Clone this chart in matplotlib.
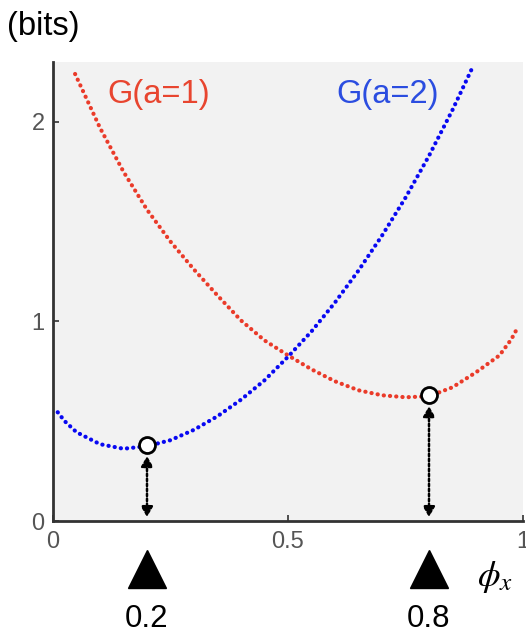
import numpy as np
import matplotlib
matplotlib.use('Agg')
import matplotlib.pyplot as plt

plt.rcParams['font.family'] = ['Liberation Sans', 'DejaVu Sans']
plt.rcParams['mathtext.fontset'] = 'stix'

# G(a=1): red curve
phi_red = [0.047, 0.1, 0.15, 0.2, 0.25, 0.3, 0.35, 0.4, 0.45, 0.5, 0.55, 0.6,
           0.65, 0.7, 0.75, 0.8, 0.85, 0.9, 0.95, 0.975, 0.99]
g_red = [2.24, 1.97, 1.75, 1.56, 1.40, 1.26, 1.13, 1.005, 0.905, 0.83, 0.76, 0.70,
         0.655, 0.63, 0.62, 0.625, 0.67, 0.745, 0.83, 0.91, 0.975]

# G(a=2): blue curve
phi_blue = [0.01, 0.025, 0.05, 0.1, 0.15, 0.2, 0.25, 0.3, 0.35, 0.4, 0.45, 0.5,
            0.55, 0.6, 0.65, 0.7, 0.75, 0.8, 0.85, 0.892]
g_blue = [0.545, 0.50, 0.445, 0.385, 0.362, 0.375, 0.405, 0.457, 0.525, 0.608, 0.705, 0.823,
          0.95, 1.095, 1.255, 1.43, 1.62, 1.83, 2.06, 2.27]

# minima marked with circles and arrows
min_phi = [0.2, 0.8]
min_g = [0.38, 0.63]
min_labels = ['0.2', '0.8']

RED = '#ea3b2a'
BLUE = '#0808f2'

fig = plt.figure(figsize=(5.26, 6.37), dpi=100)
ax = fig.add_axes([53 / 526, 1 - 521 / 637, 470 / 526, 459 / 637])
ax.set_facecolor('#f2f2f2')

dots = (0, (0.05, 1.45))
ax.plot(phi_red, g_red, color=RED, lw=3.0, ls=dots, dash_capstyle='round')
ax.plot(phi_blue, g_blue, color=BLUE, lw=3.0, ls=dots, dash_capstyle='round')

# double-headed dotted arrows down to the axis
for x, g in zip(min_phi, min_g):
    ax.annotate('', xy=(x, 0.02), xytext=(x, g - 0.055),
                arrowprops=dict(arrowstyle='<|-|>,head_length=0.6,head_width=0.35',
                                color='black', lw=1.8, ls=(0, (1, 1)),
                                shrinkA=0, shrinkB=0))

ax.plot(min_phi, min_g, 'o', ms=11.5, mfc='white', mec='black', mew=2, zorder=5)

ax.text(0.115, 2.135, 'G(a=1)', color='#e8452f', fontsize=23.5, ha='left', va='center')
ax.text(0.602, 2.135, 'G(a=2)', color='#2b4de0', fontsize=23.5, ha='left', va='center')

ax.set_xlim(0, 1)
ax.set_ylim(0, 2.3)
ax.set_xticks([0, 0.5, 1])
ax.set_xticklabels(['0', '0.5', '1'])
ax.set_yticks([0, 1, 2])
ax.tick_params(direction='in', length=4, width=1.2, color='#333333',
               labelcolor='#555555', labelsize=17)
ax.tick_params(axis='x', pad=7)
ax.tick_params(axis='y', pad=6)
for side in ['top', 'right']:
    ax.spines[side].set_visible(False)
for side in ['left', 'bottom']:
    ax.spines[side].set_linewidth(2)
    ax.spines[side].set_color('#333333')

# triangles and values under the axis
trans = ax.get_xaxis_transform()
ax.plot(min_phi, [-0.105] * 2, '^', color='black', ms=27, transform=trans, clip_on=False)
for x, lab in zip(min_phi, min_labels):
    ax.text(x, -0.214, lab, fontsize=22.5, ha='center', va='center', transform=trans)

fig.text(495 / 526, 1 - 577 / 637, r'$\phi_x$', fontsize=26, ha='center', va='center')
fig.text(7 / 526, 1 - 26 / 637, '(bits)', fontsize=23.5, ha='left', va='center')

fig.savefig('out.png', dpi=100)
